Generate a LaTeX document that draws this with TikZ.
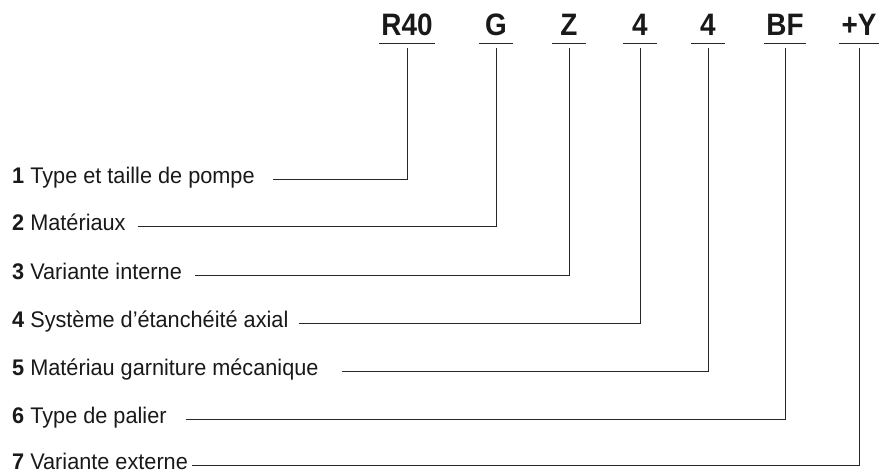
\documentclass[tikz,border=0pt]{standalone}
\usepackage{fontspec}
\setmainfont{Liberation Sans}[FakeStretch=0.96]
\newfontfamily\codefont{Liberation Sans}[FakeStretch=0.9]

\tikzset{
  code/.style={font=\codefont\fontsize{31}{31}\selectfont\bfseries,anchor=base,
    inner xsep=2pt,inner ysep=7pt,text depth=0pt,minimum width=34pt,text=black!90},
  lab/.style={font=\fontsize{22.6}{23}\selectfont,anchor=base west,inner sep=0pt,text=black!90},
  lead/.style={line width=1pt,draw=black!85}
}

\begin{document}
\begin{tikzpicture}[x=1pt,y=-1pt]
\useasboundingbox (0,0) rectangle (887,473);
% code letters with underline
\foreach \n/\x/\t in {1/407/R40,2/496/G,3/569/Z,4/640/4,5/708/4,6/785/BF,7/859/+Y}{
  \node[code] (c\n) at (\x,36) {\t};
  \draw[lead] (c\n.south west) -- (c\n.south east);
}
% legend lines
\foreach \n/\y/\t/\g in {1/183.3/Type et taille de pompe/18,2/230.5/Matériaux/12,
  3/280/Variante interne/13,4/327.3/Système d’étanchéité axial/10,
  5/375/Matériau garniture mécanique/23,6/423/Type de palier/19,
  7/469/Variante externe/4}{
  \node[lab] (l\n) at (12,\y) {\textbf{\n} \t};
  \path (l\n.base east) ++(\g,-4) coordinate (s\n);
  \draw[lead] (s\n) -| ([yshift=-5pt]c\n.south);
}
\end{tikzpicture}
\end{document}
